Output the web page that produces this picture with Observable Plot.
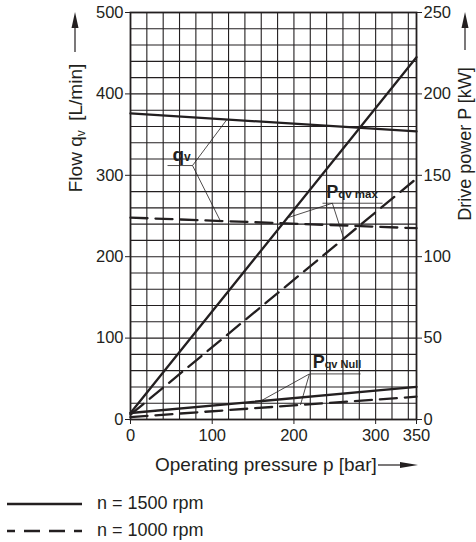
<!DOCTYPE html>
<html><head><meta charset="utf-8">
<script src="https://cdn.jsdelivr.net/npm/d3@7"></script>
<script src="https://cdn.jsdelivr.net/npm/@observablehq/plot@0.6"></script>
<style>
body{margin:0;background:#fff;font-family:"Liberation Sans",Arial,Helvetica,sans-serif;color:#231f20;}
#chart svg{display:block}
.legend{margin-top:15px}
.row{display:flex;align-items:center;height:27px;font-size:18px}
.row svg{margin-left:7px;margin-right:15px;display:block}
</style></head><body>
<div id="chart"></div>
<div class="legend" id="legend"></div>
<script>
// ---- data ----
const pressure = [0, 350];            // bar
const flow1500 = [376, 354];          // L/min
const flow1000 = [248, 235];          // L/min
const powerMax1500 = [4, 222.5];      // kW
const powerMax1000 = [3, 148];        // kW
const powerNull1500 = [4, 20];        // kW
const powerNull1000 = [1.5, 14];      // kW
const xTicks = [0, 100, 200, 300, 350];
const flowTicks = [0, 100, 200, 300, 400, 500];
const powerTicks = [0, 50, 100, 150, 200, 250];
const legendLabels = ["n = 1500 rpm", "n = 1000 rpm"];
const legendRpm = [1500, 1000];

const ink = "#231f20";
const FONT = '"Liberation Sans", Arial, Helvetica, sans-serif';
const kwToFlow = flowTicks[flowTicks.length - 1] / powerTicks[powerTicks.length - 1];

const series = [
  {id: "qv1500", rpm: 1500, vals: flow1500, f: 1},
  {id: "qv1000", rpm: 1000, vals: flow1000, f: 1},
  {id: "pmax1500", rpm: 1500, vals: powerMax1500, f: kwToFlow},
  {id: "pmax1000", rpm: 1000, vals: powerMax1000, f: kwToFlow},
  {id: "pnull1500", rpm: 1500, vals: powerNull1500, f: kwToFlow},
  {id: "pnull1000", rpm: 1000, vals: powerNull1000, f: kwToFlow}
];
const rows = series.flatMap(s => pressure.map((p, i) => ({id: s.id, rpm: s.rpm, p, y: s.vals[i] * s.f})));
const valueAt = (id, p) => {
  const s = series.find(d => d.id === id);
  return (s.vals[0] + (s.vals[1] - s.vals[0]) * (p - pressure[0]) / (pressure[1] - pressure[0])) * s.f;
};

// curve annotations (label anchor, underline, leader targets)
const labelDefs = [
  {main: "q", sub: "v", mainSize: 19, subSize: 12, p: 51.4, v: 318, ul: [45.3, 75.9], ulv: 312, origin: 75.9,
   targets: [["qv1500", 118], ["qv1000", 110]]},
  {main: "P", sub: "qv max", mainSize: 18, subSize: 11.5, p: 239.5, v: 271.5, ul: [235, 308.5], ulv: 265.7, origin: 247,
   targets: [["pmax1500", 192], ["pmax1000", 261]]},
  {main: "P", sub: "qv Null", mainSize: 18, subSize: 11, p: 222.9, v: 62.7, ul: [220.4, 281.6], ulv: 56, origin: 219,
   targets: [["pnull1500", 159], ["pnull1000", 208]]}
];
const leaders = labelDefs.flatMap(d => d.targets.map(([id, p]) => ({x1: d.origin, y1: d.ulv, x2: p, y2: valueAt(id, p)})));
const underlines = labelDefs.map(d => ({x1: d.ul[0], x2: d.ul[1], y: d.ulv}));

const ctx = document.createElement("canvas").getContext("2d");
const advance = (txt, size) => { ctx.font = `bold ${size}px ${FONT}`; return ctx.measureText(txt).width; };

const W = 476, H = 475, mL = 130, mR = 60, mT = 12, mB = 56;

const svgEl = Plot.plot({
  width: W, height: H,
  marginLeft: mL, marginRight: mR, marginTop: mT, marginBottom: mB,
  style: {fontFamily: FONT, fontSize: "16.5px", color: ink, background: "#fff"},
  x: {domain: [pressure[0], pressure[1]]},
  y: {domain: [flowTicks[0], flowTicks[flowTicks.length - 1]]},
  marks: [
    Plot.gridX(d3.range(20, 350, 20), {stroke: ink, strokeOpacity: 1, strokeWidth: 1.1}),
    Plot.gridY(d3.range(20, 500, 20), {stroke: ink, strokeOpacity: 1, strokeWidth: 1.1}),
    Plot.line(rows.filter(d => d.rpm === 1000), {x: "p", y: "y", z: "id", stroke: ink, strokeWidth: 2.3, strokeDasharray: "17,8"}),
    Plot.line(rows.filter(d => d.rpm === 1500), {x: "p", y: "y", z: "id", stroke: ink, strokeWidth: 2.3}),
    Plot.frame({stroke: ink, strokeWidth: 1.8}),
    Plot.axisX(xTicks, {tickSize: 5, tickPadding: 5, label: null, fontSize: 16.5}),
    Plot.axisY(flowTicks, {anchor: "left", tickSize: 5, tickPadding: 2, label: null, fontSize: 16.5}),
    Plot.axisY(powerTicks.map(d => d * kwToFlow), {anchor: "right", tickSize: 5, tickPadding: 2, label: null, fontSize: 16.5, tickFormat: d => d / kwToFlow}),
    ...labelDefs.flatMap(d => [
      Plot.text([d], {x: "p", y: "v", text: "main", textAnchor: "start", lineAnchor: "bottom", fontWeight: "bold", fontSize: d.mainSize, fill: ink, ariaLabel: "curve-label"}),
      Plot.text([d], {x: "p", y: "v", text: "sub", dx: advance(d.main, d.mainSize), textAnchor: "start", lineAnchor: "bottom", fontWeight: "bold", fontSize: d.subSize, fill: ink, ariaLabel: "curve-label"})
    ]),
    Plot.link(underlines, {x1: "x1", x2: "x2", y1: "y", y2: "y", stroke: ink, strokeWidth: 0.8}),
    Plot.link(leaders, {x1: "x1", y1: "y1", x2: "x2", y2: "y2", stroke: ink, strokeWidth: 0.8})
  ]
});
document.getElementById("chart").appendChild(svgEl);

// white boxes behind curve labels
const svg = d3.select(svgEl);
svg.selectAll('g[aria-label="curve-label"] text').each(function() {
  const b = this.getBBox();
  const r = document.createElementNS("http://www.w3.org/2000/svg", "rect");
  r.setAttribute("x", b.x - 1); r.setAttribute("y", b.y + 1);
  r.setAttribute("width", b.width + 2); r.setAttribute("height", Math.max(0, b.height - 1));
  r.setAttribute("fill", "#fff");
  if (this.getAttribute("transform")) r.setAttribute("transform", this.getAttribute("transform"));
  this.parentNode.insertBefore(r, this);
});

// axis titles and arrows
const deco = svg.append("g").attr("fill", ink).attr("font-size", 19).attr("font-family", FONT).attr("text-anchor", "start");
function arrow(x1, y1, x2, y2, len, wid) {
  const dx = x2 - x1, dy = y2 - y1, L = Math.hypot(dx, dy), ux = dx / L, uy = dy / L;
  const bx = x2 - ux * len, by = y2 - uy * len;
  deco.append("line").attr("x1", x1).attr("y1", y1).attr("x2", bx + ux * 2).attr("y2", by + uy * 2)
    .attr("stroke", ink).attr("stroke-width", 1.2);
  deco.append("path").attr("d", `M${x2},${y2}L${bx - uy * wid / 2},${by + ux * wid / 2}L${bx + uy * wid / 2},${by - ux * wid / 2}Z`);
}
const plotBottom = H - mB, plotRight = W - mR;
// x title
deco.append("text").attr("x", 155).attr("y", plotBottom + 52).attr("text-anchor", "start").text("Operating pressure p [bar]");
arrow(378, plotBottom + 46, plotRight + 2, plotBottom + 46, 18, 6);
// left title
const lt = deco.append("text").attr("transform", "translate(75,128) rotate(-90)").attr("text-anchor", "middle").attr("dy", "0.35em");
lt.append("tspan").text("Flow q");
lt.append("tspan").attr("font-size", 12).attr("dy", 3).text("v");
lt.append("tspan").attr("dy", -3).text("\u2002[L/min]");
arrow(75, 52, 75, mT, 16, 7);
// right title
deco.append("text").attr("transform", "translate(465,144) rotate(-90)").attr("text-anchor", "middle").attr("dy", "0.35em").attr("font-size", 18).text("Drive power P [kW]");
arrow(465, 50, 465, mT, 16, 7);

// legend
const lg = d3.select("#legend");
legendLabels.forEach((lab, i) => {
  const row = lg.append("div").attr("class", "row");
  const s = row.append("svg").attr("width", 75).attr("height", 6);
  const ln = s.append("line").attr("x1", 0).attr("x2", 75).attr("y1", 3).attr("y2", 3).attr("stroke", ink).attr("stroke-width", 2.4);
  if (legendRpm[i] === 1000) ln.attr("stroke-dasharray", "16,9").attr("stroke-dashoffset", 8);
  row.append("span").text(lab);
});
</script>
</body></html>
